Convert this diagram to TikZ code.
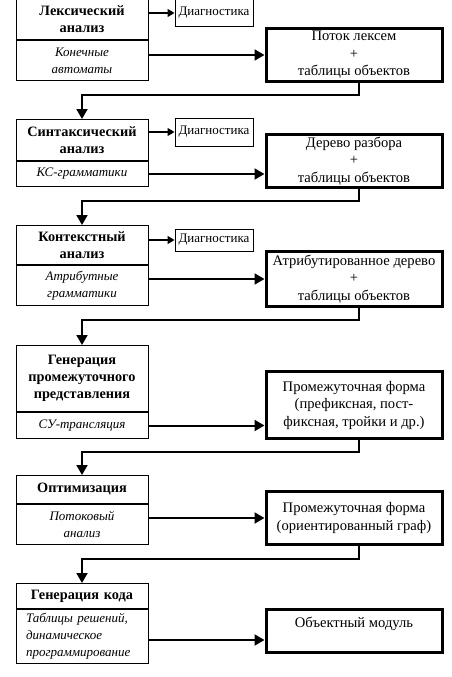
\documentclass[tikz,border=0pt]{standalone}
\usepackage{fontspec}
\setmainfont{Liberation Serif}
\usetikzlibrary{arrows.meta,positioning}
\tikzset{
 stage/.style={draw, line width=1pt, minimum width=132pt, inner sep=0pt, align=center,
   font=\bfseries\fontsize{14.3}{17}\selectfont, anchor=north, text width=128pt},
 method/.style={draw, line width=1pt, minimum width=132pt, inner sep=0pt, align=center,
   font=\itshape\fontsize{13}{17}\selectfont, anchor=north, text width=128pt},
 diag/.style={draw, line width=1pt, minimum width=78pt, inner sep=0pt,
   font=\fontsize{13}{15}\selectfont},
 result/.style={draw, line width=3pt, minimum width=176pt, inner sep=0pt, align=center,
   font=\fontsize{14.6}{17.5}\selectfont, anchor=north},
 flow/.style={line width=2pt, -{Triangle[length=10pt,width=11pt]}},
 dflow/.style={line width=1.3pt, -{Triangle[length=7pt,width=8pt]}},
}
\begin{document}
\begin{tikzpicture}[x=1pt,y=-1pt]
\useasboundingbox[fill=white] (0,0) rectangle (451,677);

% stage 1
\node[stage, minimum height=40pt] (t1) at (82,-1) {Лексический\\анализ};
\node[method, minimum height=40pt] (m1) at (t1.south) {Конечные\\автоматы};
\node[diag, minimum height=28pt] (d1) at (214,13) {Диагностика};
\node[result, minimum height=53pt] (r1) at (354,27) {Поток лексем\\+\\таблицы объектов};

% stage 2
\node[stage, minimum height=41pt] (t2) at (82,119) {Синтаксический\\анализ};
\node[method, minimum height=25pt] (m2) at (t2.south) {КС-грамматики};
\node[diag, minimum height=28pt] (d2) at (214,132) {Диагностика};
\node[result, minimum height=53pt] (r2) at (354,133) {Дерево разбора\\+\\таблицы объектов};

% stage 3
\node[stage, minimum height=39pt] (t3) at (82,225) {Контекстный\\анализ};
\node[method, minimum height=40pt] (m3) at (t3.south) {Атрибутные\\грамматики};
\node[diag, minimum height=22pt] (d3) at (214,240) {Диагностика};
\node[result, minimum height=55pt] (r3) at (354,250) {Атрибутированное дерево\\+\\таблицы объектов};

% stage 4
\node[stage, minimum height=66pt] (t4) at (82,345) {Генерация\\промежуточного\\представления};
\node[method, minimum height=26pt] (m4) at (t4.south) {СУ-трансляция};
\node[result, minimum height=67pt] (r4) at (354,370) {Промежуточная форма\\(префиксная, пост-\\фиксная, тройки и др.)};

% stage 5
\node[stage, minimum height=28pt] (t5) at (82,475) {Оптимизация};
\node[method, minimum height=40pt] (m5) at (t5.south) {Потоковый\\анализ};
\node[result, minimum height=53pt] (r5) at (354,490) {Промежуточная форма\\(ориентированный граф)};

% stage 6
\node[stage, minimum height=25pt] (t6) at (82,583) {Генерация кода};
\node[method, minimum height=54pt, align=left, text width=112pt] (m6) at (t6.south) {Таблицы решений,\\динамическое\\программирование};
\node[result, minimum height=43pt] (r6) at (354,608) {Объектный модуль\\\mbox{}};

% diagnostics arrows
\draw[dflow] (t1.east |- d1.west) -- (d1.west);
\draw[dflow] (t2.east |- d2.west) -- (d2.west);
\draw[dflow] (t3.east |- d3.west) -- (d3.west);

% method -> result arrows
\draw[flow] (m1.east |- r1.west) -- (r1.west);
\draw[flow] (m2.east) -- (r2.west |- m2.east);
\draw[flow] (m3.east |- r3.west) -- (r3.west);
\draw[flow] (m4.east) -- (r4.west |- m4.east);
\draw[flow] (m5.east |- r5.west) -- (r5.west);
\coordinate (a6) at (0,640);
\draw[flow] (m6.east |- a6) -- (r6.west |- a6);

% return arrows
\draw[flow] ([xshift=5pt]r1.south) -- ++(0,12) -| (t2.north);
\draw[flow] ([xshift=5pt]r2.south) -- ++(0,12) -| (t3.north);
\draw[flow] ([xshift=5pt]r3.south) -- ++(0,12) -| (t4.north);
\draw[flow] ([xshift=5pt]r4.south) -- ++(0,12) -| (t5.north);
\draw[flow] ([xshift=5pt]r5.south) -- ++(0,13) -| (t6.north);
\end{tikzpicture}
\end{document}
